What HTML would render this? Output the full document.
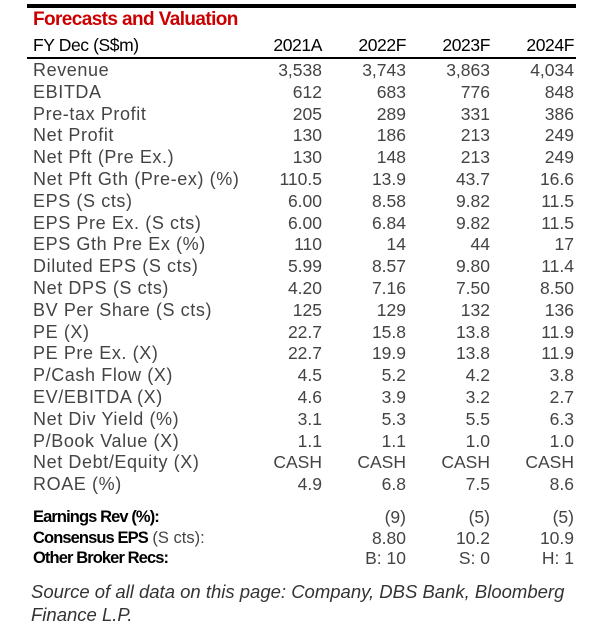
<!DOCTYPE html>
<html><head><meta charset="utf-8"><style>
body{margin:0;width:603px;height:635px;background:#fff;position:relative;overflow:hidden;font-family:"Liberation Sans",sans-serif;}
.a{position:absolute;white-space:nowrap;line-height:20px;}
.l{left:33px;color:#444;font-size:18px;letter-spacing:0.6px;}
.n{color:#444;font-size:17.5px;text-align:right;width:80px;}
.b{color:#000;font-size:17.5px;letter-spacing:-0.4px;}
.fb{color:#000;font-size:16.5px;font-weight:bold;letter-spacing:-0.9px;}
</style></head><body>
<div style="position:absolute;left:27px;top:4px;width:549px;height:4px;background:#000"></div>
<div class="a" style="left:33px;top:10px;color:#c00;font-size:19px;font-weight:bold;letter-spacing:-0.6px">Forecasts and Valuation</div>
<div class="a b" style="left:33px;top:35px">FY Dec (S$m)</div>
<div style="position:absolute;left:27px;top:57px;width:549px;height:2px;background:#000"></div>
<div class="a" style="left:31px;top:580px;color:#333;font-size:18.5px;font-style:italic;line-height:23px;letter-spacing:0px">Source of all data on this page: Company, DBS Bank, Bloomberg<br>Finance L.P.</div>
<script>
const years=["2021A","2022F","2023F","2024F"];
const labels=["Revenue","EBITDA","Pre-tax Profit","Net Profit","Net Pft (Pre Ex.)","Net Pft Gth (Pre-ex) (%)","EPS (S cts)","EPS Pre Ex. (S cts)","EPS Gth Pre Ex (%)","Diluted EPS (S cts)","Net DPS (S cts)","BV Per Share (S cts)","PE (X)","PE Pre Ex. (X)","P/Cash Flow (X)","EV/EBITDA (X)","Net Div Yield (%)","P/Book Value (X)","Net Debt/Equity (X)","ROAE (%)"];
const v2021=["3,538","612","205","130","130","110.5","6.00","6.00","110","5.99","4.20","125","22.7","22.7","4.5","4.6","3.1","1.1","CASH","4.9"];
const v2022=["3,743","683","289","186","148","13.9","8.58","6.84","14","8.57","7.16","129","15.8","19.9","5.2","3.9","5.3","1.1","CASH","6.8"];
const v2023=["3,863","776","331","213","213","43.7","9.82","9.82","44","9.80","7.50","132","13.8","13.8","4.2","3.2","5.5","1.0","CASH","7.5"];
const v2024=["4,034","848","386","249","249","16.6","11.5","11.5","17","11.4","8.50","136","11.9","11.9","3.8","2.7","6.3","1.0","CASH","8.6"];
const footLabels=["Earnings Rev (%):","Consensus EPS","Other Broker Recs:"];
const f2022=["(9)","8.80","B: 10"];
const f2023=["(5)","10.2","S: 0"];
const f2024=["(5)","10.9","H: 1"];
const right=[322,406,490,574];
const cols=[v2021,v2022,v2023,v2024];
const fcols=[f2022,f2023,f2024];
function mk(cls,txt,left,top,name){const d=document.createElement('div');d.className='a '+cls;d.textContent=txt;d.style.left=left+'px';d.style.top=top+'px';


document.body.appendChild(d);return d;}
years.forEach((y,i)=>{mk('b n',y,right[i]-80,35,'header-'+y).style.color='#000';});
labels.forEach((l,r)=>{const t=60+r*21.8;mk('l',l,33,t,'row-label');cols.forEach((c,i)=>mk('n',c[r],right[i]-80,t,'cell-value'));});
footLabels.forEach((l,r)=>{const t=507+r*20.5;const d=mk('fb',l,33,t,'footer-label');
if(r==1){const s=document.createElement('span');s.textContent=' (S cts):';s.style.color='#444';s.style.fontWeight='normal';s.style.letterSpacing='0';d.appendChild(s);}
fcols.forEach((c,i)=>mk('n',c[r],right[i+1]-80,t,'footer-value'));});
</script>
</body></html>
